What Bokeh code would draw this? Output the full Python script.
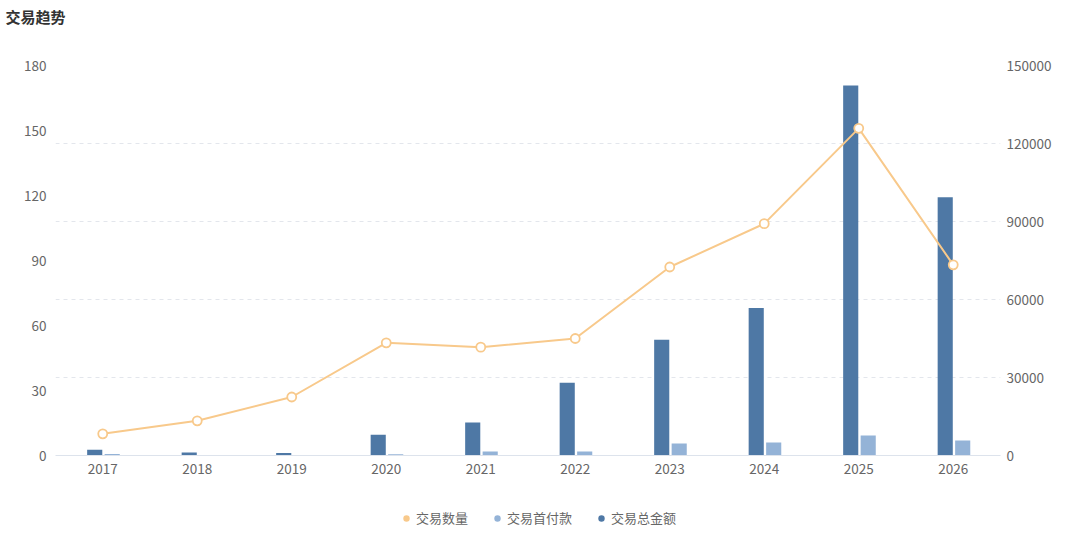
from bokeh.plotting import figure
from bokeh.layouts import column
from bokeh.models import (Range1d, FactorRange, LinearAxis, FixedTicker, Grid, Title,
                          Legend, LegendItem, ColumnDataSource, BasicTickFormatter)
from bokeh.transform import dodge
from bokeh.embed import file_html
from bokeh.resources import INLINE

years = ["2017", "2018", "2019", "2020", "2021", "2022", "2023", "2024", "2025", "2026"]
trade_count = [10, 16, 27, 52, 50, 54, 87, 107, 151, 88]
down_payment = [600, 150, 100, 500, 1500, 1500, 4600, 5000, 7700, 5800]
total_amount = [2200, 1200, 1000, 8000, 12700, 28000, 44500, 56700, 142300, 99300]

left_ticks = [0, 30, 60, 90, 120, 150, 180]
right_ticks = [0, 30000, 60000, 90000, 120000, 150000]
series_names = ["交易数量", "交易首付款", "交易总金额"]

DARK = "#4E78A5"
LIGHT = "#94B3D7"
ORANGE = "#F8C98B"
TXT = "#666666"
FONT = "Noto Sans CJK SC"

src = ColumnDataSource(dict(year=years, cnt=trade_count, dp=down_payment, tot=total_amount))

p = figure(width=1064, height=490, x_range=FactorRange(*years, range_padding=0),
           y_range=Range1d(0, 180), output_backend="svg", toolbar_location=None,
           min_border_left=55, min_border_right=64, min_border_top=65, min_border_bottom=35)
p.extra_y_ranges = {"amt": Range1d(0, 150000)}
p.outline_line_color = None
p.background_fill_color = "white"
p.border_fill_color = "white"

# spacer between title and plot area
p.add_layout(Title(text=" ", text_font_size="14px", standoff=21), "above")
p.title.text = "交易趋势"
p.title.text_font = FONT
p.title.text_font_size = "15px"
p.title.text_font_style = "bold"
p.title.text_color = "#333333"
p.title.offset = -50
p.title.standoff = 0

# grids
p.xgrid.visible = False
p.ygrid.visible = False
p.add_layout(Grid(dimension=1, ticker=FixedTicker(ticks=[36, 72, 108, 144, 180]),
                  grid_line_color="#E3E6EC", grid_line_dash="4 4", grid_line_width=1))

# axes
p.yaxis.ticker = FixedTicker(ticks=left_ticks)
ax_r = LinearAxis(y_range_name="amt", ticker=FixedTicker(ticks=right_ticks),
                  formatter=BasicTickFormatter(use_scientific=False))
p.add_layout(ax_r, "right")
for ax in (p.yaxis[0], ax_r):
    ax.axis_line_color = None
    ax.major_tick_line_color = None
    ax.minor_tick_line_color = None
    ax.major_tick_out = 0
    ax.major_tick_in = 0
    ax.major_label_text_color = TXT
    ax.major_label_text_font = FONT
    ax.major_label_text_font_size = "13.5px"
p.yaxis[0].major_label_standoff = 9
ax_r.major_label_standoff = 6

p.xaxis.axis_line_color = "#DDE3EC"
p.xaxis.major_tick_line_color = None
p.xaxis.minor_tick_line_color = None
p.xaxis.major_tick_out = 0
p.xaxis.major_tick_in = 0
p.xaxis.major_label_text_color = TXT
p.xaxis.major_label_text_font = FONT
p.xaxis.major_label_text_font_size = "13.5px"
p.xaxis.major_label_standoff = 8

# bars
p.vbar(x=dodge("year", -0.085, range=p.x_range), top="tot", width=0.16, source=src,
       y_range_name="amt", fill_color=DARK, line_color=None)
p.vbar(x=dodge("year", 0.1, range=p.x_range), top="dp", width=0.16, source=src,
       y_range_name="amt", fill_color=LIGHT, line_color=None)

# line
p.line(x="year", y="cnt", source=src, line_color=ORANGE, line_width=2)
p.scatter(x="year", y="cnt", source=src, size=9, fill_color="white",
          line_color=ORANGE, line_width=1.8)

# legend strip (separate small figure so the legend is not clipped)
lf = figure(width=1064, height=44, x_range=Range1d(0, 1064), y_range=Range1d(0, 44),
            output_backend="svg", toolbar_location=None,
            x_axis_location=None, y_axis_location=None,
            min_border_left=0, min_border_right=0, min_border_top=0, min_border_bottom=0)
lf.outline_line_color = None
lf.xgrid.visible = False
lf.ygrid.visible = False
dots = []
for c in (ORANGE, LIGHT, DARK):
    dots.append(lf.scatter(x=[0], y=[-100], size=7, fill_color=c, line_color=None))
legend = Legend(items=[LegendItem(label=n, renderers=[d]) for n, d in zip(series_names, dots)],
                orientation="horizontal", location=(343, 7),
                label_text_font=FONT, label_text_font_size="13px", label_text_color=TXT,
                glyph_width=16, glyph_height=16, label_standoff=2, spacing=21,
                border_line_color=None, background_fill_alpha=0, margin=0, padding=0)
lf.add_layout(legend, "center")

layout = column(p, lf, spacing=0)
open("out.html", "w").write(file_html(layout, INLINE))
